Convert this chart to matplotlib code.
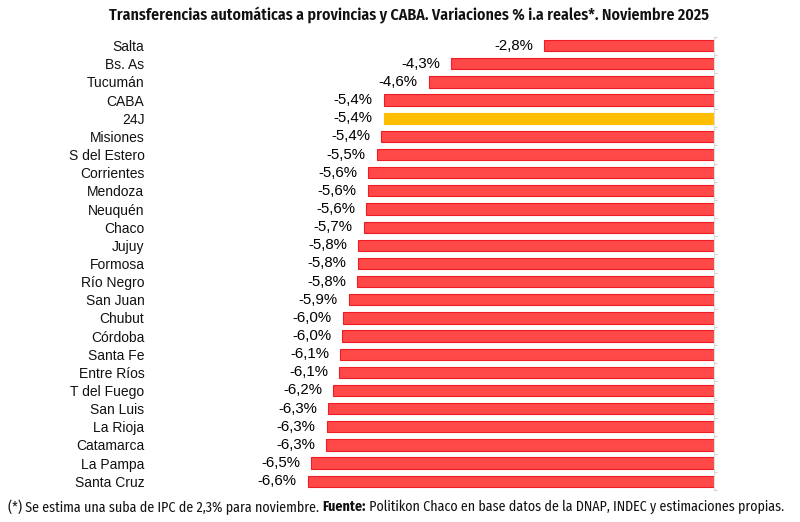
import numpy as np
import matplotlib
matplotlib.use("Agg")
import matplotlib.pyplot as plt

provincias = [
    "Salta", "Bs. As", "Tucumán", "CABA", "24J", "Misiones", "S del Estero",
    "Corrientes", "Mendoza", "Neuquén", "Chaco", "Jujuy", "Formosa",
    "Río Negro", "San Juan", "Chubut", "Córdoba", "Santa Fe", "Entre Ríos",
    "T del Fuego", "San Luis", "La Rioja", "Catamarca", "La Pampa", "Santa Cruz",
]
variacion = [
    -2.76, -4.26, -4.63, -5.36, -5.36, -5.40, -5.47,
    -5.61, -5.62, -5.64, -5.68, -5.77, -5.78,
    -5.79, -5.92, -6.02, -6.03, -6.06, -6.08,
    -6.18, -6.26, -6.28, -6.29, -6.53, -6.59,
]
destacado = "24J"

titulo = "Transferencias automáticas a provincias y CABA. Variaciones % i.a reales*. Noviembre 2025"
nota = [
    ("(*) Se estima una suba de IPC de 2,3% para noviembre. ", "normal"),
    ("Fuente:", "bold"),
    (" Politikon Chaco en base datos de la DNAP, INDEC y estimaciones propias.", "normal"),
]

narrow = ["Fira Sans Condensed", "DejaVu Sans"]
plt.rcParams["font.family"] = ["Liberation Sans", "DejaVu Sans"]

fig = plt.figure(figsize=(8, 5.22), dpi=100)
ax = fig.add_axes([0.1875, 0.0607, 0.8929 - 0.1875, 0.9299 - 0.0607])

y = np.arange(len(provincias))
colores = ["#FFBF00" if p == destacado else "#FF4848" for p in provincias]
bordes = ["#FFBF00" if p == destacado else "#EE1C25" for p in provincias]
ax.barh(y, variacion, height=0.62, color=colores, edgecolor=bordes, linewidth=0.8)

for yi, v in zip(y, variacion):
    txt = f"{v:.1f}%".replace(".", ",")
    ax.annotate(txt, xy=(v, yi), xytext=(-8, 0), textcoords="offset points",
                ha="right", va="center", fontsize=10.8, color="black")

ax.set_xlim(-9.146, 0)
ax.set_ylim(len(provincias) - 0.5, -0.5)
ax.set_yticks(y)
ax.set_yticklabels(provincias, fontsize=10, color="#111111")
ax.tick_params(axis="y", which="major", length=0, pad=4)
ax.set_xticks([])

# faint zero line with small boundary ticks on the right
for side in ["top", "bottom", "left"]:
    ax.spines[side].set_visible(False)
ax.spines["right"].set_color("#dcdcdc")
ax.spines["right"].set_linewidth(0.8)
ax.set_yticks(np.arange(-0.5, len(provincias), 1), minor=True)
ax.tick_params(axis="y", which="minor", right=True, left=False, length=2.5,
               color="#d0d0d0", width=0.8)

fig.canvas.draw()
renderer = fig.canvas.get_renderer()

# title, sized to the reference width (~602 px)
t = fig.text(0.511, 0.971, titulo, ha="center", va="center", fontsize=11,
             fontweight="semibold", family=narrow, color="#111111")
w = t.get_window_extent(renderer).width
t.set_fontsize(11 * 602 / w)

# footer with bold "Fuente:", sized to end near x=790
piezas = [fig.text(0, 0, s, fontsize=10, fontweight=p, family=narrow) for s, p in nota]
total = sum(p.get_window_extent(renderer).width for p in piezas)
fs = 10 * 776 / total
x0 = 8 / 800
for p in piezas:
    p.set_fontsize(fs)
    p.set_position((x0, 1 - 507 / 522))
    p.set_va("center")
    p.set_color("#111111")
    x0 += p.get_window_extent(renderer).width / fig.bbox.width

fig.savefig("out.png", dpi=100)
